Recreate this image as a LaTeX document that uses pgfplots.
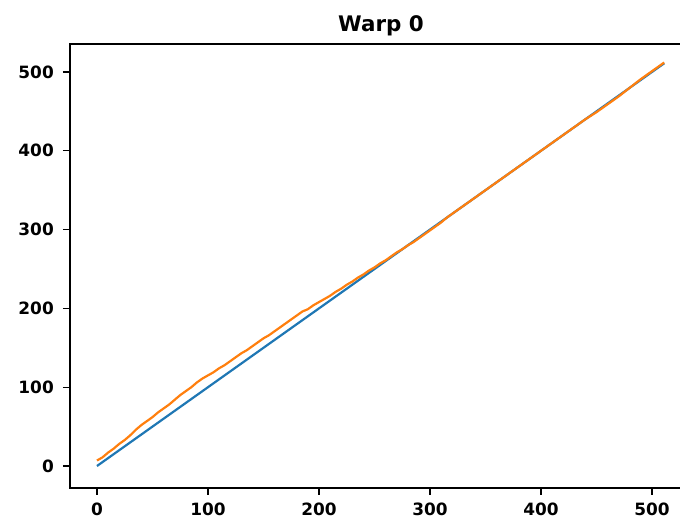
\documentclass[border=0pt]{standalone}
\usepackage{pgfplots}
\pgfplotsset{compat=1.18}
\usepackage{fontspec}
\setmainfont{DejaVu Sans}
\definecolor{mplblue}{HTML}{1F77B4}
\definecolor{mplorange}{HTML}{FF7F0E}
\begin{document}
\begin{tikzpicture}
\begin{axis}[
  at={(0,0)}, anchor=south west,
  scale only axis,
  width=700bp, height=444bp,
  xmin=-24.3, xmax=606.3,
  ymin=-27.9, ymax=535.5,
  xtick={0,100,200,300,400,500},
  ytick={0,100,200,300,400,500},
  tick align=outside,
  major tick length=7bp,
  tick style={line width=1.2bp, black},
  axis line style={draw=none},
  xtick pos=bottom, ytick pos=left,
  /pgf/number format/assume math mode=true,
  ticklabel style={font=\fontsize{17}{20}\selectfont\bfseries, inner sep=0pt},
  xticklabel style={anchor=north, yshift=-8bp},
  yticklabel style={anchor=east, xshift=-9bp},
  title={\fontsize{21.5}{25}\selectfont\bfseries Warp 0},
  title style={at={(0.4443,1)}, anchor=base, yshift=7bp, inner sep=0pt},
  clip=false,
]
\draw[line width=1.2bp, line cap=rect] (rel axis cs:1,0) -- (rel axis cs:0,0) -- (rel axis cs:0,1) -- (rel axis cs:1,1);
\addplot[mplblue, line width=2.2bp] coordinates {(0,0) (511,511)};
\addplot[mplorange, line width=2.2bp] coordinates {
(0,7) (5,11) (10,17) (15,22) (20,28) (25,33) (30,39) (35,46) (40,52) (45,57) (50,62) (55,68)
(60,73) (65,78) (70,84) (75,90) (80,95) (85,100) (90,106) (95,111) (100,115) (105,119) (110,124)
(115,128) (120,133) (125,138) (130,143) (135,147) (140,152) (145,157) (150,162) (155,166) (160,171)
(165,176) (170,181) (175,186) (180,191) (185,196) (190,199) (195,204) (200,208) (205,212) (210,216)
(215,221) (220,225) (225,230) (230,234) (235,239) (240,243) (245,248) (250,252) (255,257) (260,261)
(265,266) (270,271) (275,275) (280,280) (285,284) (290,289) (295,294) (300,299) (305,304) (310,309)
(315,315) (320,320) (325,325) (330,330) (335,335) (340,340) (345,345) (350,350) (360,360) (370,370)
(380,380) (390,390) (400,400) (410,410) (420,420) (430,430) (440,440) (450,449) (460,459) (470,469)
(480,480) (490,491) (500,501) (511,512)};
\end{axis}
\pgfresetboundingbox
\path[use as bounding box] (-70bp,-33bp) rectangle (610bp,488bp);
\end{tikzpicture}
\end{document}
